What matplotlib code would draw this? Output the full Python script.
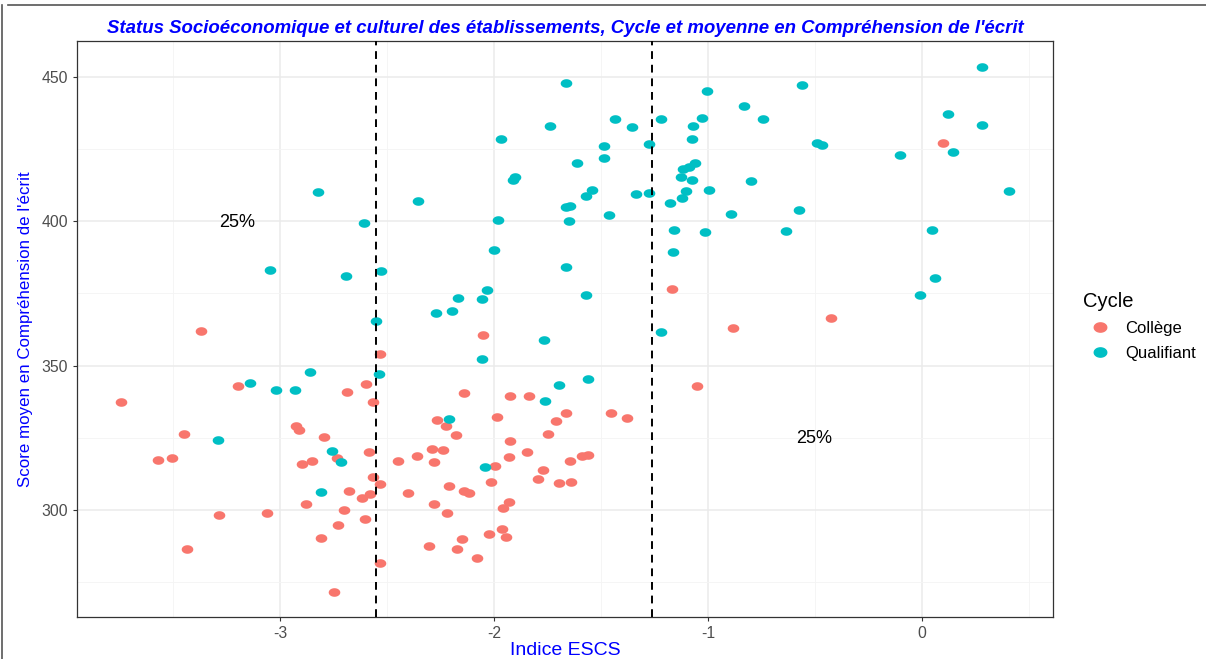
import numpy as np
import matplotlib
matplotlib.use("Agg")
import matplotlib.pyplot as plt
from matplotlib.path import Path
from matplotlib.lines import Line2D

plt.rcParams['font.family'] = ['Liberation Sans', 'DejaVu Sans']

# Qualifiant (teal) points: ESCS index, reading score
qual_x = [-2.822, -2.358, -2.609, -3.048, -2.693, -2.528, -2.273, -2.196, -2.168, -2.057,
          -2.032, -2.554, -1.666, -1.970, -1.738, -1.437, -1.356, -1.487, -1.488, -1.278,
          -1.219, -1.004, -1.030, -1.071, -1.074, -0.831, -0.745, -1.613, -1.914, -1.901,
          -1.060, -1.089, -1.117, -1.128, -1.077, -0.801, -1.543, -1.572, -1.337, -1.276,
          -1.102, -1.121, -0.994, -1.177, -1.664, -1.646, -1.465, -0.893, -1.984, -1.649,
          -1.158, -1.014, -2.000, -1.164, -1.663, -1.571, -1.219, 0.282, -0.561, 0.123,
          0.281, -0.489, -0.466, -0.104, 0.144, 0.405, -0.574, -0.637, 0.045, 0.059,
          -0.008, -2.057, -2.540, -2.861, -3.142, -3.021, -2.933, -2.213, -3.290, -2.757,
          -2.716, -2.808, -2.041, -1.767, -1.697, -1.563, -1.763]
qual_y = [410.0, 406.9, 399.4, 383.2, 381.0, 382.7, 368.2, 368.9, 373.5, 373.2,
          376.3, 365.3, 447.7, 428.4, 433.0, 435.4, 432.7, 426.1, 422.0, 426.6,
          435.5, 445.1, 435.8, 433.1, 428.4, 439.9, 435.4, 420.2, 414.3, 415.4,
          420.0, 418.8, 418.2, 415.2, 414.2, 414.0, 410.8, 408.7, 409.4, 409.8,
          410.4, 408.0, 410.7, 406.3, 405.0, 405.3, 402.1, 402.4, 400.3, 400.1,
          397.1, 396.3, 390.0, 389.3, 384.2, 374.3, 361.6, 453.5, 447.2, 437.1,
          433.3, 427.0, 426.5, 422.9, 423.9, 410.6, 403.8, 396.6, 396.8, 380.4,
          374.3, 352.4, 347.2, 347.8, 344.0, 341.4, 341.7, 331.4, 324.3, 320.5,
          316.7, 306.1, 315.0, 358.8, 343.4, 345.3, 337.8]

# College (red) points
coll_x = [-3.371, -2.051, -2.535, -3.745, -3.198, -2.598, -2.687, -2.565, -2.143, -3.449,
          -2.928, -2.914, -2.796, -2.269, -2.227, -2.180, -3.570, -3.508, -2.900, -2.850,
          -2.736, -2.584, -2.450, -2.359, -2.291, -2.238, -2.280, -2.567, -2.532, -2.213,
          -2.680, -2.619, -2.579, -2.403, -2.143, -2.116, -2.015, -2.880, -2.704, -2.283,
          -2.219, -3.288, -3.062, -2.603, -2.729, -2.811, -2.023, -2.151, -2.303, -2.172,
          -2.080, -3.437, -2.534, -2.749, -1.169, -0.884, -1.052, -1.926, -1.837, -1.985,
          -1.664, -1.710, -1.453, -1.379, -1.750, -1.926, -1.845, -1.932, -1.646, -1.590,
          -1.563, -1.995, -1.770, -1.797, -1.698, -1.642, -1.931, -1.959, -1.965, -1.945,
          -0.424, 0.097]
coll_y = [361.9, 360.7, 354.0, 337.5, 342.9, 343.5, 340.9, 337.4, 340.4, 326.3,
          329.1, 327.7, 325.4, 331.2, 329.1, 325.9, 317.3, 318.1, 315.8, 316.9,
          317.9, 320.0, 317.0, 318.8, 321.2, 320.9, 316.6, 311.3, 308.9, 308.3,
          306.7, 304.1, 305.4, 306.0, 306.7, 306.0, 309.7, 302.1, 300.0, 302.1,
          299.0, 298.2, 298.9, 296.9, 294.8, 290.4, 291.6, 289.9, 287.4, 286.6,
          283.4, 286.4, 281.5, 271.7, 376.4, 363.1, 342.9, 339.6, 339.5, 332.3,
          333.6, 330.9, 333.5, 331.9, 326.4, 323.9, 320.2, 318.4, 317.1, 318.6,
          318.9, 315.2, 313.9, 310.8, 309.5, 309.6, 302.9, 300.6, 293.5, 290.7,
          366.6, 427.2]

quartiles = [-2.554, -1.261]
annot_x = [-3.20, -0.503]
annot_y = [399.7, 324.8]

red = '#F8766D'
teal = '#00BFC4'

# slightly flattened dot, like the reference
t = np.linspace(0, 2 * np.pi, 40)
ellipse = Path(np.column_stack([np.cos(t), 0.74 * np.sin(t)]), closed=True)

fig = plt.figure(figsize=(12.06, 6.59), dpi=100)
ax = fig.add_axes([0.0641, 0.0642, 0.8088, 0.8736])

ax.scatter(coll_x, coll_y, s=70, marker=ellipse, color=red, linewidths=0, zorder=3, label='Collège')
ax.scatter(qual_x, qual_y, s=70, marker=ellipse, color=teal, linewidths=0, zorder=3, label='Qualifiant')

for q in quartiles:
    ax.axvline(q, color='black', linestyle=(0, (4, 3)), linewidth=1.4, zorder=4)

for xa, ya in zip(annot_x, annot_y):
    ax.text(xa, ya, '25%', ha='center', va='center', fontsize=13, color='black')

ax.set_xlim(-3.949, 0.611)
ax.set_ylim(263.05, 462.4)
ax.set_xticks([-3, -2, -1, 0])
ax.set_xticklabels(['-3', '-2', '-1', '0'])
ax.set_yticks([300, 350, 400, 450])
ax.set_xticks([-3.5, -2.5, -1.5, -0.5, 0.5], minor=True)
ax.set_yticks([275, 325, 375, 425], minor=True)
ax.grid(which='major', color='#EBEBEB', linewidth=1.1)
ax.grid(which='minor', color='#F4F4F4', linewidth=0.6)
ax.set_axisbelow(True)
ax.tick_params(which='major', length=3, width=0.8, color='#333333', labelsize=11.3, labelcolor='#4D4D4D')
ax.tick_params(which='minor', length=0)
for s in ax.spines.values():
    s.set_color('#333333')
    s.set_linewidth(0.9)

ax.set_xlabel('Indice ESCS', color='blue', fontsize=14, labelpad=1)
ax.set_ylabel("Score moyen en Compréhension de l'écrit", color='blue', fontsize=12.2, labelpad=6)
ax.set_title("Status Socioéconomique et culturel des établissements, Cycle et moyenne en Compréhension de l'écrit",
             color='blue', fontsize=13.4, fontweight='bold', fontstyle='italic', pad=6)

leg = fig.legend(handles=[
    Line2D([], [], marker=ellipse, linestyle='', markersize=9, color=red, label='Collège'),
    Line2D([], [], marker=ellipse, linestyle='', markersize=9, color=teal, label='Qualifiant')],
    title='Cycle', loc='upper left', bbox_to_anchor=(0.8855, 0.58), frameon=False,
    fontsize=12, title_fontsize=14.5, alignment='left', handletextpad=0.55, labelspacing=0.6)

# screenshot frame
fig.add_artist(Line2D([8 / 1206, 1], [1 - 5 / 659, 1 - 5 / 659], color='#555555', linewidth=1.2))
fig.add_artist(Line2D([2 / 1206, 2 / 1206], [0, 1 - 5 / 659], color='#555555', linewidth=1.2))

fig.savefig('out.png', dpi=100)
